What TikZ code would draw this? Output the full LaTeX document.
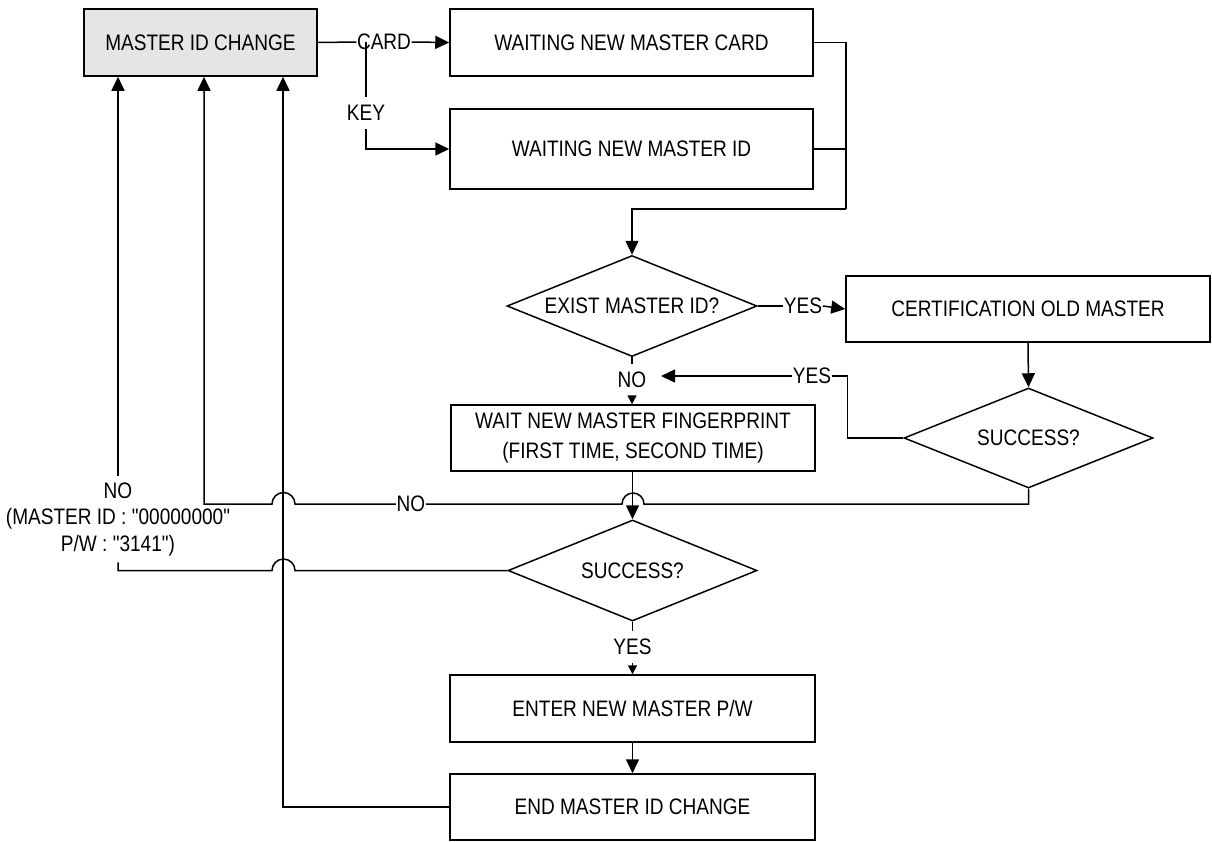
\documentclass[tikz,border=0pt]{standalone}
\usepackage{fontspec}
\newfontfamily\lfont{Liberation Sans}[FakeStretch=0.85]
\usetikzlibrary{shapes.geometric,arrows.meta}
\tikzset{
  base/.style={font=\lfont\fontsize{22.4}{26.5}\selectfont},
  box/.style={draw, rectangle, inner sep=0pt, align=center, base},
  dec/.style={draw, diamond, aspect=2.47, inner sep=0pt, base},
  lab/.style={inner sep=0pt, base},
  big/.style={-{Triangle[length=14pt,width=13pt]}},
  small/.style={-{Triangle[length=9pt,width=9pt]}}
}
\begin{document}
\begin{tikzpicture}[x=1pt,y=-1pt,line width=1.5pt]
\useasboundingbox (0,0) rectangle (1212,841);
% boxes
\node[box, fill=gray!20, minimum width=233pt, minimum height=67pt] (master) at (200.5,42.5) {MASTER ID CHANGE};
\node[box, minimum width=363pt, minimum height=67pt] (wcard) at (631.5,42.5) {WAITING NEW MASTER CARD};
\node[box, minimum width=363pt, minimum height=80pt] (wid) at (631.5,149) {WAITING NEW MASTER ID};
\node[dec, minimum width=250pt, minimum height=101pt] (exist) at (632,306) {EXIST MASTER ID?};
\node[box, minimum width=364pt, minimum height=66pt] (cert) at (1028,309) {CERTIFICATION OLD MASTER};
\node[dec, minimum width=249pt, minimum height=100pt] (s1) at (1028.5,438) {SUCCESS?};
\node[box, minimum width=364pt, minimum height=66pt, font=\lfont\fontsize{22.4}{29.5}\selectfont] (fp) at (633,438) {WAIT NEW MASTER FINGERPRINT\\(FIRST TIME, SECOND TIME)};
\node[dec, minimum width=249pt, minimum height=101pt] (s2) at (632.5,570.5) {SUCCESS?};
\node[box, minimum width=365pt, minimum height=67pt] (enter) at (632.5,708.5) {ENTER NEW MASTER P/W};
\node[box, minimum width=365pt, minimum height=66pt] (endb) at (632.5,807) {END MASTER ID CHANGE};
% labels
\node[lab] (card) at (384,42) {CARD};
\coordinate (j1) at (366,42);
\node[lab, inner ysep=8pt] (key) at (366,113) {KEY};
\node[lab] (yes1) at (803,306) {YES};
\node[lab, inner ysep=7pt] (no1) at (632,380) {NO};
\node[lab] (yes2) at (812,376) {YES};
\coordinate (n1t) at (661,376);
\node[lab] (no2) at (411,504) {NO};
\node[lab, inner sep=6pt, align=center] (lbl) at (118,519) {NO\\(MASTER ID : "00000000"\\P/W : "3141")};
\node[lab, inner ysep=7pt] (yes3) at (632.5,647) {YES};
% connectors
\draw (master.east) -- (card.west);
\draw[big] (card.east) -- (wcard.west);
\draw (j1) -- (key.north);
\draw[big] (key.south) |- (wid.west);
\coordinate (r) at (846,209);
\draw (wcard.east) -| (r);
\draw (wid.east) -- (wid.east -| r);
\draw[big] (r) -| (exist.north);
\draw (exist.east) -- (yes1.west);
\draw[big] (yes1.east) -- (cert.west);
\draw (exist.south) -- (no1.north);
\draw[small] (no1.south) -- (no1.south |- fp.north);
\draw[big] (cert.south) -- (s1.north);
\draw (s1.west) -- ++(-56,0) |- (yes2.east);
\draw[big] (yes2.west) -- (n1t);
\draw[big] (s2.north |- fp.south) -- (s2.north);
\draw (s1.south) |- (644,504) arc (0:-180:11) -- (no2.east);
\coordinate (c204) at (204,504);
\draw[big] (no2.west) -- (295,504) arc (0:-180:11.5) -- (c204) -- (c204 |- master.south);
\draw (s2.west) -- (295,570.5) arc (0:-180:11.5) -- (118,570.5) -- (lbl.south);
\draw[big] (lbl.north) -- (lbl.north |- master.south);
\draw (s2.south) -- (yes3.north);
\draw[small] (yes3.south) -- (enter.north);
\draw[big] (enter.south) -- (endb.north);
\coordinate (c283) at (283,807);
\draw[big] (endb.west) -- (c283) -- (c283 |- master.south);
\end{tikzpicture}
\end{document}
